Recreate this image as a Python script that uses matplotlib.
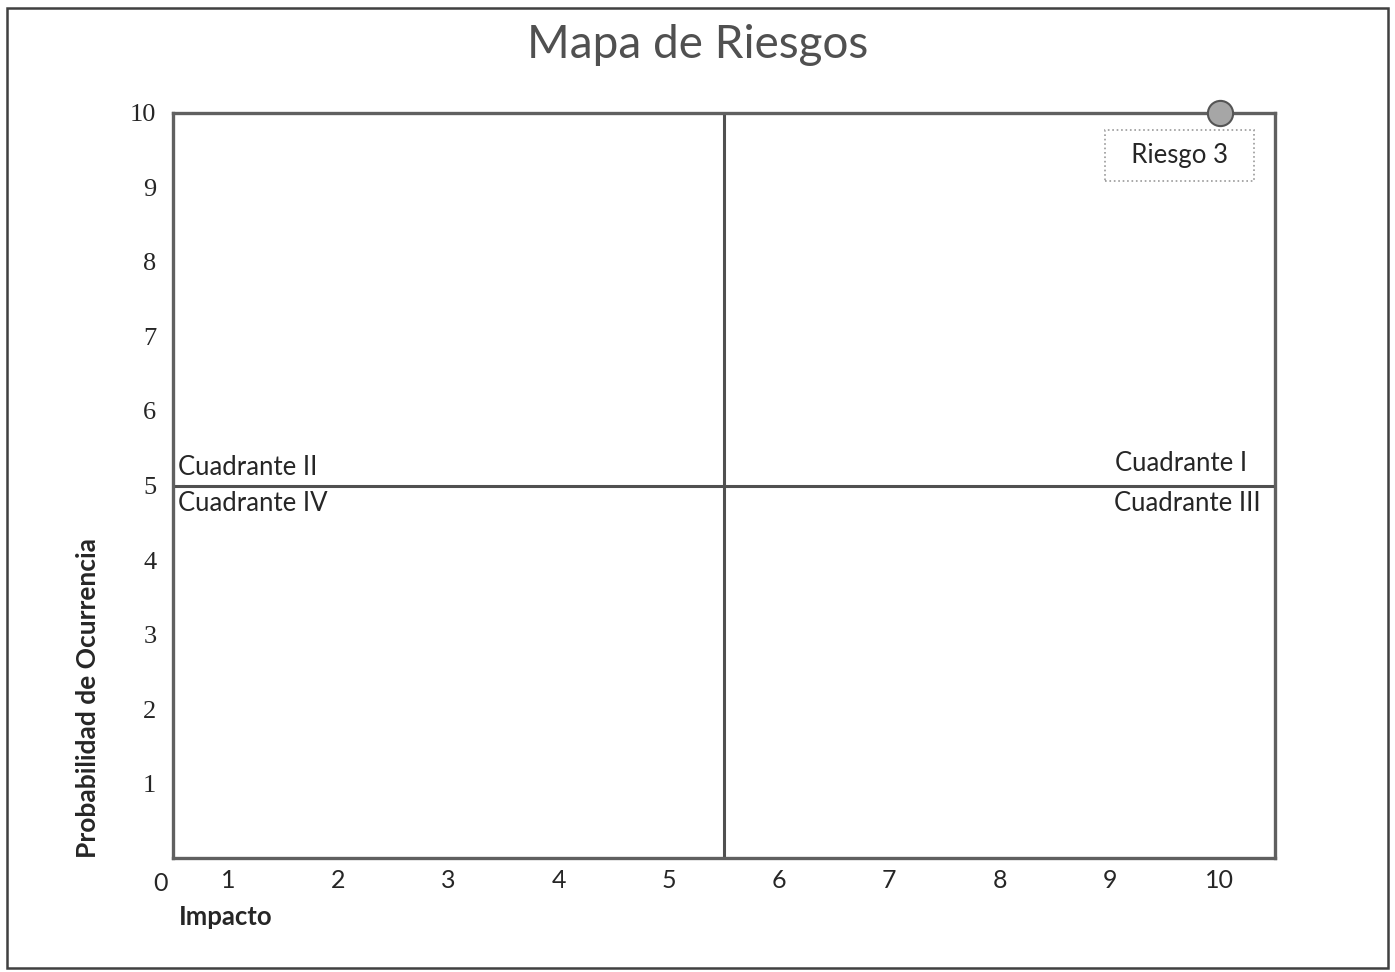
import matplotlib.pyplot as plt
import matplotlib.patches as mpatches

# ── DATA ─────────────────────────────────────────────────────────────────────
risk_names = ["Riesgo 3"]
risk_impact = [10]
risk_prob = [10]

x_ticks = [1, 2, 3, 4, 5, 6, 7, 8, 9, 10]
y_ticks = [1, 2, 3, 4, 5, 6, 7, 8, 9, 10]
x_split = 5.5
y_split = 5

quadrants = ["Cuadrante I", "Cuadrante II", "Cuadrante III", "Cuadrante IV"]

# ── STYLE ────────────────────────────────────────────────────────────────────
plt.rcParams["font.family"] = ["Lato", "DejaVu Sans"]
LINE = "#606060"
TEXT = "#262626"

fig = plt.figure(figsize=(13.95, 9.72), dpi=100)
ax = fig.add_axes([0.124, 0.117, 0.79, 0.767])

ax.set_xlim(0.5, 10.5)
ax.set_ylim(0, 10)

for s in ax.spines.values():
    s.set_color(LINE)
    s.set_linewidth(2.4)

ax.axvline(x_split, color="#505050", linewidth=2.2)
ax.axhline(y_split, color="#505050", linewidth=2.2)

ax.set_xticks(x_ticks)
ax.set_yticks(y_ticks)
ax.tick_params(length=0, labelsize=18, labelcolor=TEXT)
ax.tick_params(axis="x", pad=8)
ax.tick_params(axis="y", pad=12)
for lab in ax.get_yticklabels():
    lab.set_family(["Liberation Serif", "DejaVu Serif"])
    lab.set_fontsize(19)
ax.text(-0.005, -0.018, "0", transform=ax.transAxes, fontsize=18, color=TEXT,
        ha="right", va="top")

ax.set_xlabel("Impacto", fontsize=18.5, fontweight="bold", color=TEXT)
ax.xaxis.set_label_coords(0.005, -0.063)
ax.xaxis.label.set_horizontalalignment("left")
ax.set_ylabel("Probabilidad de Ocurrencia", fontsize=19, fontweight="bold",
              color=TEXT)
ax.yaxis.set_label_coords(-0.066, 0.215)

# quadrant labels
qfs = 18.5
ax.text(0.005, 0.507, quadrants[1], transform=ax.transAxes, fontsize=qfs,
        color=TEXT, ha="left", va="bottom")
ax.text(0.005, 0.492, quadrants[3], transform=ax.transAxes, fontsize=qfs,
        color=TEXT, ha="left", va="top")
ax.text(0.975, 0.513, quadrants[0], transform=ax.transAxes, fontsize=qfs,
        color=TEXT, ha="right", va="bottom")
ax.text(0.987, 0.492, quadrants[2], transform=ax.transAxes, fontsize=qfs,
        color=TEXT, ha="right", va="top")

# risk point
ax.scatter(risk_impact, risk_prob, s=330, color="#a6a6a6", edgecolor="#555555",
           linewidth=1.5, zorder=5, clip_on=False)
for name, xi, yi in zip(risk_names, risk_impact, risk_prob):
    ax.annotate("  " + name + "  ", (xi, yi), xytext=(-29, -31),
                textcoords="offset points",
                fontsize=18.5, color=TEXT, ha="center", va="center",
                bbox=dict(boxstyle="square,pad=0.5", facecolor="white",
                          edgecolor="#9a9a9a", linestyle=":", linewidth=1.2))

fig.suptitle("Mapa de Riesgos", fontsize=33, color="#505050", y=0.975, va="top")

# outer chart border
fig.patches.append(mpatches.Rectangle((0.005, 0.004), 0.99, 0.988,
                                      transform=fig.transFigure, fill=False,
                                      edgecolor="#404040", linewidth=1.8))

fig.savefig("out.png", dpi=100)
